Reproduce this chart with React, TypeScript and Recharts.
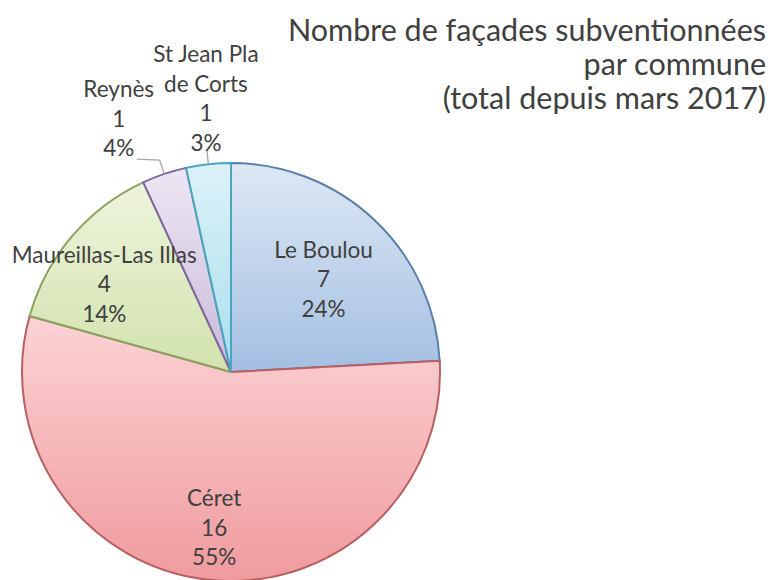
import { PieChart, Pie, Cell } from "recharts";

const communes = ["Le Boulou", "Céret", "Maureillas-Las Illas", "Reynès", "St Jean Pla de Corts"];
const facades = [7, 16, 4, 1, 1];
const pctLabels = ["24%", "55%", "14%", "4%", "3%"];
const titleLines = ["Nombre de façades subventionnées", "par commune", "(total depuis mars 2017)"];

const data = communes.map((name, i) => ({ name, value: facades[i], pct: pctLabels[i] }));

// gradient top/bottom colours and outline per slice
const fillTop = ["#dee8f4", "#fbd3d5", "#eef4dd", "#ede6f3", "#ddf2f8"];
const fillBottom = ["#a4bfe2", "#f09b9e", "#d2e2ad", "#c9badb", "#a9deec"];
const strokes = ["#5b7fab", "#b85f62", "#8aa35e", "#8066a0", "#4aa6bf"];

// label placement: radius factor and angle shift from the slice middle
const labelR = [0.63, 0.745, 0.74, 1.33, 1.32];
const labelShift = [-1.2, 0, 5.4, 5.2, -1.0];

const RADIAN = Math.PI / 180;
const textColor = "#404040";
const font = "Lato, 'Open Sans', sans-serif";
const lineH = 29.5;

function wrap(name: string, outside: boolean) {
  if (!outside || name.length <= 12) return [name];
  const words = name.split(" ");
  const lines: string[] = [];
  let cur = "";
  words.forEach((w) => {
    if (cur && (cur + " " + w).length > 11) {
      lines.push(cur);
      cur = w;
    } else cur = cur ? cur + " " + w : w;
  });
  if (cur) lines.push(cur);
  return lines;
}

function renderLabel(props: any) {
  const { cx, cy, midAngle, outerRadius, index } = props;
  const d = data[index];
  const outside = labelR[index] > 1;
  const ang = (midAngle + labelShift[index]) * RADIAN;
  const lx = cx + outerRadius * labelR[index] * Math.cos(ang);
  const ly = cy - outerRadius * labelR[index] * Math.sin(ang);
  const lines = [...wrap(d.name, outside), String(d.value), d.pct];
  const top = ly - ((lines.length - 1) * lineH) / 2;

  let leader = null;
  if (outside) {
    const m = midAngle * RADIAN;
    const ax = cx + outerRadius * Math.cos(m);
    const ay = cy - outerRadius * Math.sin(m);
    const bx = cx + outerRadius * 1.07 * Math.cos(m);
    const by = cy - outerRadius * 1.07 * Math.sin(m);
    const pts = [`${ax},${ay}`, `${bx},${by}`];
    if (Math.abs(lx - bx) > 20) pts.push(`${lx + (bx > lx ? 18 : -18)},${by - 1}`);
    leader = <polyline points={pts.join(" ")} fill="none" stroke="#a6a6a6" strokeWidth={1.3} />;
  }

  return (
    <g>
      {leader}
      <text
        x={lx}
        y={top}
        textAnchor="middle"
        dominantBaseline="central"
        fill={textColor}
        fontSize={22.5}
        fontFamily={font}
      >
        {lines.map((l, k) => (
          <tspan key={k} x={lx} dy={k === 0 ? 0 : lineH}>
            {l}
          </tspan>
        ))}
      </text>
    </g>
  );
}

export default function App() {
  return (
    <div style={{ position: "absolute", left: 0, top: 0, width: 777, height: 580, background: "#fff", overflow: "hidden" }}>
      <PieChart width={777} height={580} margin={{ top: 0, right: 0, bottom: 0, left: 0 }}>
        <defs>
          {communes.map((c, i) => (
            <linearGradient key={c} id={`grad${i}`} x1="0" y1="0" x2="0" y2="1">
              <stop offset="0%" stopColor={fillTop[i]} />
              <stop offset="100%" stopColor={fillBottom[i]} />
            </linearGradient>
          ))}
        </defs>
        <Pie
          data={data}
          dataKey="value"
          nameKey="name"
          cx={231}
          cy={372}
          outerRadius={209}
          startAngle={90}
          endAngle={-270}
          isAnimationActive={false}
          label={renderLabel}
          labelLine={false}
        >
          {data.map((d, i) => (
            <Cell key={d.name} fill={`url(#grad${i})`} stroke={strokes[i]} strokeWidth={2} />
          ))}
        </Pie>
      </PieChart>
      <div
        style={{
          position: "absolute",
          right: 11,
          top: 12,
          textAlign: "right",
          color: textColor,
          fontFamily: font,
          fontSize: 30.5,
          lineHeight: "34px",
          whiteSpace: "nowrap",
        }}
      >
        {titleLines.map((t) => (
          <div key={t}>{t}</div>
        ))}
      </div>
    </div>
  );
}
